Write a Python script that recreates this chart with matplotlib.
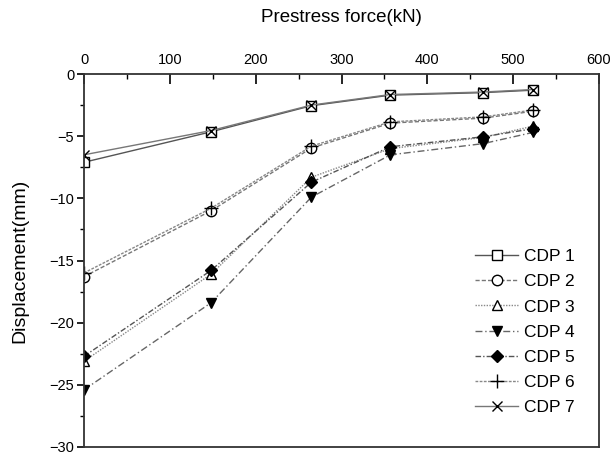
import matplotlib
matplotlib.use("Agg")
import matplotlib.pyplot as plt
from matplotlib.ticker import MultipleLocator

plt.rcParams['font.family'] = ['Liberation Sans', 'DejaVu Sans']

# prestress force steps (kN)
force = [0, 148, 265, 357, 465, 523]

# displacement (mm) per measuring point
cdp1 = [-7.1, -4.65, -2.55, -1.7, -1.5, -1.3]
cdp2 = [-16.3, -11.0, -5.95, -3.95, -3.55, -3.0]
cdp3 = [-23.1, -16.1, -8.3, -6.0, -5.1, -4.2]
cdp4 = [-25.4, -18.4, -9.9, -6.5, -5.6, -4.7]
cdp5 = [-22.7, -15.8, -8.7, -5.85, -5.05, -4.4]
cdp6 = [-16.0, -10.8, -5.8, -3.85, -3.45, -2.9]
cdp7 = [-6.5, -4.55, -2.5, -1.65, -1.45, -1.25]

labels = ["CDP 1", "CDP 2", "CDP 3", "CDP 4", "CDP 5", "CDP 6", "CDP 7"]

fig = plt.figure(figsize=(6.12, 4.57), dpi=100)
ax = fig.add_axes([84 / 612, 1 - 447 / 457, 515 / 612, 373 / 457])

# === series styles ===
styles = [
    dict(ls="-", marker="s", mfc="white", color="#555555"),
    dict(ls=(0, (3, 1.5)), marker="o", mfc="white", color="#777777"),
    dict(ls=(0, (1, 1)), marker="^", mfc="white", color="#888888"),
    dict(ls=(0, (5, 2, 1, 2)), marker="v", mfc="black", color="#666666"),
    dict(ls=(0, (4, 1.5, 1, 1.5)), marker="D", mfc="black", color="#555555"),
    dict(ls=(0, (2, 1)), marker="+", mfc="none", color="#888888"),
    dict(ls="-", marker="x", mfc="none", color="#777777"),
]
ms = [7.5, 7.5, 7.5, 7.5, 6.5, 9.5, 7.5]

for y, st, lab, m in zip([cdp1, cdp2, cdp3, cdp4, cdp5, cdp6, cdp7], styles, labels, ms):
    ax.plot(force, y, linestyle=st["ls"], marker=st["marker"], color=st["color"],
            mfc=st["mfc"], mec="black", mew=1.0, ms=m, lw=1.0, label=lab)

# === axes ===
ax.set_xlim(0, 600)
ax.set_ylim(-30, 0)
ax.xaxis.set_major_locator(MultipleLocator(100))
ax.xaxis.set_minor_locator(MultipleLocator(50))
ax.yaxis.set_major_locator(MultipleLocator(5))
ax.yaxis.set_minor_locator(MultipleLocator(2.5))
ax.xaxis.tick_top()
ax.xaxis.set_label_position("top")
ax.tick_params(axis="x", which="major", direction="in", length=7, width=1.2,
               labelsize=10.5, pad=5, top=True, bottom=False)
ax.tick_params(axis="x", which="minor", direction="in", length=3.5, width=1.0,
               top=True, bottom=False)
ax.tick_params(axis="y", which="major", direction="out", length=5, width=1.2,
               labelsize=10.5, pad=2, right=False)
ax.tick_params(axis="y", which="minor", direction="out", length=3, width=1.0, right=False)
for s in ax.spines.values():
    s.set_linewidth(1.3)
    s.set_color("#333333")

ax.set_xlabel("Prestress force(kN)", fontsize=13.5, labelpad=22)
ax.set_ylabel("Displacement(mm)", fontsize=14, labelpad=15)

ax.legend(loc="upper left", bbox_to_anchor=(384 / 515, 1 - 168 / 373), frameon=False,
          fontsize=12.5, handlelength=2.5, handletextpad=0.3, labelspacing=0.58,
          borderaxespad=0)

fig.savefig("out.png", dpi=100)
